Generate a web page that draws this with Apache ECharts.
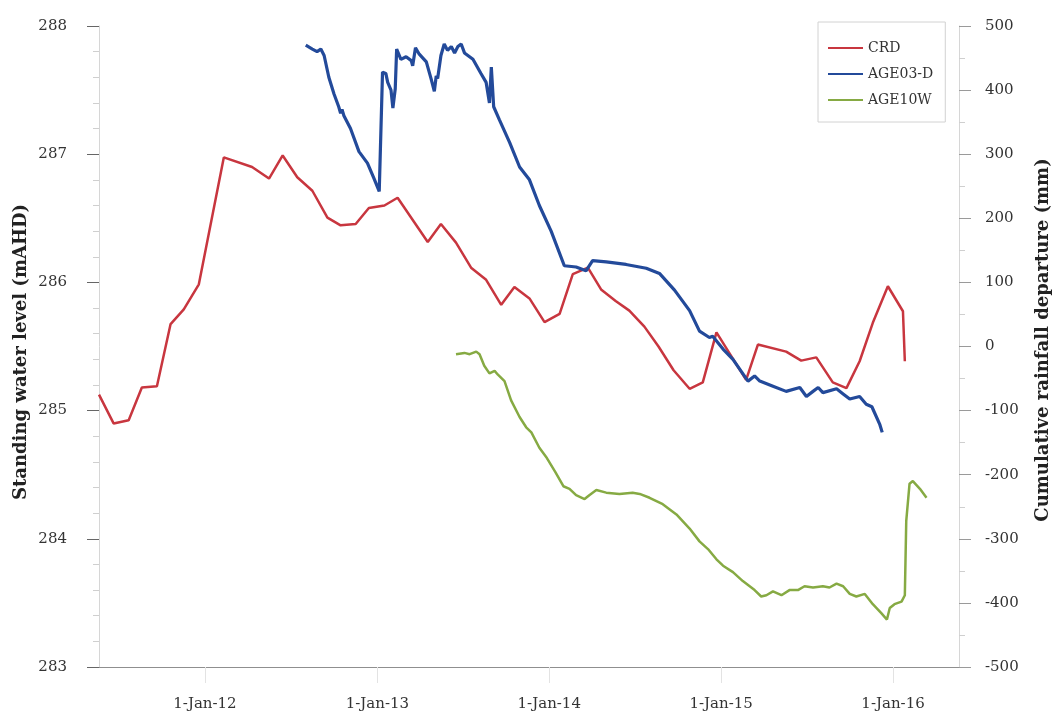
<!DOCTYPE html>
<html>
<head>
<meta charset="utf-8">
<script src="https://cdn.jsdelivr.net/npm/echarts@6/dist/echarts.min.js"></script>
<style>
  html, body { margin: 0; padding: 0; background: #ffffff; }
  #chart { width: 1055px; height: 716px; }
</style>
</head>
<body>
<div id="chart"></div>
<script>
// Cumulative rainfall departure (mm), monthly
const crdDates = [
  '2011-05-21','2011-06-21','2011-07-23','2011-08-20','2011-09-21','2011-10-20','2011-11-17','2011-12-19',
  '2012-02-10','2012-04-10','2012-05-16','2012-06-14','2012-07-15','2012-08-16','2012-09-17','2012-10-15',
  '2012-11-16','2012-12-14','2013-01-16','2013-02-13','2013-04-18','2013-05-16','2013-06-17','2013-07-19',
  '2013-08-20','2013-09-21','2013-10-19','2013-11-20','2013-12-22','2014-01-23','2014-02-20','2014-03-24',
  '2014-04-21','2014-05-22','2014-06-20','2014-07-22','2014-08-21','2014-09-22','2014-10-26','2014-11-23',
  '2014-12-22','2015-02-23','2015-03-20','2015-05-19','2015-06-20','2015-07-22','2015-08-26','2015-09-24',
  '2015-10-22','2015-11-19','2015-12-21','2016-01-22','2016-01-26'
];
const crdValues = [
  -75, -120, -115, -64, -62, 35, 58, 97,
  295, 280, 262, 298, 264, 243, 201, 189,
  191, 216, 220, 232, 163, 191, 162, 123,
  104, 65, 93, 75, 38, 51, 113, 123,
  89, 71, 56, 31, 0, -37, -66, -56,
  22, -52, 3, -8, -22, -17, -56, -65,
  -23, 37, 94, 55, -23
];

// Bore AGE03-D standing water level (mAHD)
const age03Dates = [
  '2012-08-02','2012-08-16','2012-08-26','2012-09-03','2012-09-10','2012-09-20','2012-10-01','2012-10-11',
  '2012-10-15','2012-10-18','2012-10-22','2012-11-05','2012-11-23','2012-12-11','2012-12-25','2013-01-05',
  '2013-01-12','2013-01-19','2013-01-23','2013-01-30','2013-02-03','2013-02-08','2013-02-11','2013-02-20',
  '2013-03-03','2013-03-14','2013-03-17','2013-03-23','2013-03-31','2013-04-15','2013-04-25','2013-05-02',
  '2013-05-06','2013-05-09','2013-05-16','2013-05-23','2013-05-30','2013-06-07','2013-06-14','2013-06-21',
  '2013-06-28','2013-07-05','2013-07-23','2013-08-09','2013-08-20','2013-08-27','2013-08-31','2013-09-05',
  '2013-09-17','2013-10-09','2013-10-30','2013-11-20','2013-12-11','2014-01-05','2014-02-02','2014-02-27',
  '2014-03-20','2014-04-03','2014-05-02','2014-06-13','2014-07-26','2014-08-23','2014-09-24','2014-10-26',
  '2014-11-16','2014-12-07','2014-12-14','2015-01-05','2015-01-26','2015-02-27','2015-03-13','2015-03-24',
  '2015-04-21','2015-05-19','2015-06-17','2015-07-01','2015-07-15','2015-07-26','2015-08-05','2015-09-03',
  '2015-09-17','2015-10-01','2015-10-22','2015-11-05','2015-11-17','2015-12-04','2015-12-09'
];
const age03Levels = [
  287.85, 287.82, 287.80, 287.82, 287.77, 287.60, 287.47, 287.37,
  287.32, 287.35, 287.30, 287.20, 287.02, 286.93, 286.81, 286.71,
  287.64, 287.63, 287.56, 287.50, 287.36, 287.51, 287.82, 287.74,
  287.76, 287.73, 287.69, 287.83, 287.78, 287.72, 287.59, 287.49,
  287.61, 287.59, 287.77, 287.86, 287.81, 287.84, 287.79, 287.84,
  287.86, 287.79, 287.74, 287.63, 287.56, 287.40, 287.68, 287.37,
  287.27, 287.09, 286.90, 286.80, 286.60, 286.40, 286.13, 286.12,
  286.09, 286.17, 286.16, 286.14, 286.11, 286.07, 285.94, 285.78,
  285.62, 285.57, 285.58, 285.48, 285.40, 285.23, 285.27, 285.23,
  285.19, 285.15, 285.18, 285.11, 285.15, 285.18, 285.14, 285.17,
  285.13, 285.09, 285.11, 285.05, 285.03, 284.89, 284.83
];

// Bore AGE10W standing water level (mAHD)
const age10Dates = [
  '2013-06-17','2013-07-05','2013-07-16','2013-07-30','2013-08-06','2013-08-16','2013-08-27','2013-09-07',
  '2013-09-14','2013-09-28','2013-10-12','2013-10-30','2013-11-13','2013-11-24','2013-12-11','2013-12-27',
  '2014-01-14','2014-01-31','2014-02-13','2014-02-27','2014-03-17','2014-03-27','2014-04-11','2014-05-02',
  '2014-05-30','2014-06-27','2014-07-12','2014-08-02','2014-08-30','2014-09-28','2014-10-26','2014-11-16',
  '2014-12-04','2014-12-22','2015-01-05','2015-01-26','2015-02-16','2015-03-13','2015-03-27','2015-04-07',
  '2015-04-21','2015-05-09','2015-05-26','2015-06-13','2015-06-27','2015-07-15','2015-08-05','2015-08-19',
  '2015-09-03','2015-09-17','2015-10-01','2015-10-15','2015-11-02','2015-11-19','2015-12-07','2015-12-19',
  '2015-12-25','2016-01-04','2016-01-19','2016-01-26','2016-01-29','2016-02-05','2016-02-12','2016-02-27',
  '2016-03-12'
];
const age10Levels = [
  285.44, 285.45, 285.44, 285.46, 285.44, 285.35, 285.29, 285.31,
  285.28, 285.23, 285.08, 284.95, 284.87, 284.83, 284.71, 284.63,
  284.52, 284.41, 284.39, 284.34, 284.31, 284.34, 284.38, 284.36,
  284.35, 284.36, 284.35, 284.32, 284.27, 284.19, 284.08, 283.98,
  283.92, 283.84, 283.79, 283.74, 283.67, 283.60, 283.55, 283.56,
  283.59, 283.56, 283.60, 283.60, 283.63, 283.62, 283.63, 283.62,
  283.65, 283.63, 283.57, 283.55, 283.57, 283.49, 283.42, 283.37,
  283.46, 283.49, 283.51, 283.56, 284.14, 284.43, 284.45, 284.39,
  284.32
];

// Date axis ticks and their labels
const yearTicks = ['2012-01-01', '2013-01-01', '2014-01-01', '2015-01-01', '2016-01-01'];
const yearTickLabels = ['1-Jan-12', '1-Jan-13', '1-Jan-14', '1-Jan-15', '1-Jan-16'];
const axisStart = '2011-05-21';
const axisEnd = '2016-05-20';

const toTime = s => Date.parse(s + 'T00:00:00Z');
const pairs = (dates, vals) => dates.map((d, i) => [toTime(d), vals[i]]);
const tickTimes = yearTicks.map(toTime);

const FONT = '"DejaVu Serif", "Liberation Serif", serif';

const chart = echarts.init(document.getElementById('chart'), null, { renderer: 'canvas' });

chart.setOption({
  animation: false,
  backgroundColor: '#ffffff',
  textStyle: { fontFamily: FONT },
  grid: { left: 99, right: 96, top: 26, bottom: 49, containLabel: false },
  legend: {
    left: 818,
    top: 22,
    orient: 'vertical',
    itemWidth: 35,
    itemHeight: 14,
    itemGap: 12,
    padding: [19, 12, 15, 9],
    borderColor: '#d2d2d2',
    borderWidth: 1,
    backgroundColor: '#ffffff',
    // plain line samples, no marker on them
    itemStyle: { opacity: 0 },
    textStyle: { fontFamily: FONT, fontSize: 14, color: '#333333' },
    data: ['CRD', 'AGE03-D', 'AGE10W']
  },
  // time in ms on a value axis, with ticks pinned to 1 January of each year
  xAxis: {
    type: 'value',
    min: toTime(axisStart),
    max: toTime(axisEnd),
    axisLine: { onZero: false, lineStyle: { color: '#8f8f8f', width: 1 } },
    axisTick: { show: true, customValues: tickTimes, length: 16, lineStyle: { color: '#e3e3e3' } },
    axisLabel: {
      customValues: tickTimes,
      formatter: v => {
        const i = tickTimes.indexOf(v);
        return i >= 0 ? yearTickLabels[i] : '';
      },
      margin: 30,
      fontFamily: FONT,
      fontSize: 15,
      color: '#333333'
    },
    splitLine: { show: false }
  },
  yAxis: [
    {
      type: 'value',
      position: 'left',
      min: 283,
      max: 288,
      interval: 1,
      axisLine: { show: true, lineStyle: { color: '#d6d6d6' } },
      axisTick: { show: true, length: 12, lineStyle: { color: '#666666' } },
      minorTick: { show: true, splitNumber: 5, length: 6, lineStyle: { color: '#cfcfcf' } },
      splitLine: { show: false },
      axisLabel: { margin: 32, fontFamily: FONT, fontSize: 15, color: '#333333' }
    },
    {
      type: 'value',
      position: 'right',
      min: -500,
      max: 500,
      interval: 100,
      axisLine: { show: true, lineStyle: { color: '#d6d6d6' } },
      axisTick: { show: true, length: 12, lineStyle: { color: '#9a9a9a' } },
      minorTick: { show: true, splitNumber: 2, length: 6, lineStyle: { color: '#cfcfcf' } },
      splitLine: { show: false },
      axisLabel: { margin: 26, fontFamily: FONT, fontSize: 15, color: '#333333' }
    }
  ],
  series: [
    {
      name: 'CRD',
      type: 'line',
      yAxisIndex: 1,
      symbol: 'none',
      data: pairs(crdDates, crdValues),
      lineStyle: { color: '#c8363f', width: 2.5 },
      itemStyle: { color: '#c8363f' }
    },
    {
      name: 'AGE03-D',
      type: 'line',
      yAxisIndex: 0,
      symbol: 'none',
      data: pairs(age03Dates, age03Levels),
      lineStyle: { color: '#234a9a', width: 3.2 },
      itemStyle: { color: '#234a9a' }
    },
    {
      name: 'AGE10W',
      type: 'line',
      yAxisIndex: 0,
      symbol: 'none',
      data: pairs(age10Dates, age10Levels),
      lineStyle: { color: '#86aa43', width: 2.5 },
      itemStyle: { color: '#86aa43' }
    }
  ],
  graphic: [
    {
      type: 'text',
      x: 21,
      y: 352,
      rotation: Math.PI / 2,
      style: {
        text: 'Standing water level (mAHD)',
        font: 'bold 18px ' + FONT,
        fill: '#222222',
        align: 'center',
        verticalAlign: 'middle'
      }
    },
    {
      type: 'text',
      x: 1043,
      y: 340,
      rotation: Math.PI / 2,
      style: {
        text: 'Cumulative rainfall departure (mm)',
        font: 'bold 18px ' + FONT,
        fill: '#222222',
        align: 'center',
        verticalAlign: 'middle'
      }
    }
  ]
});
</script>
</body>
</html>
